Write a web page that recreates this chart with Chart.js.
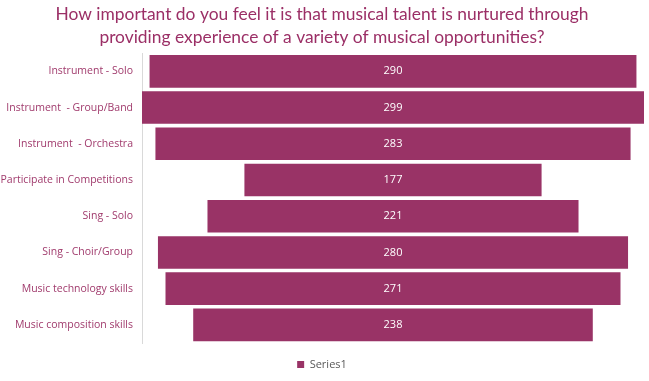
<!DOCTYPE html>
<html><head><meta charset="utf-8">
<script src="https://cdn.jsdelivr.net/npm/chart.js@4/dist/chart.umd.min.js"></script>
<style>html,body{margin:0;padding:0;background:#fff}#wrap{width:649px;height:381px}</style>
</head><body><div id="wrap"><canvas id="c"></canvas></div>
<script>
const categories = ["Instrument - Solo","Instrument  - Group/Band","Instrument  - Orchestra","Participate in Competitions","Sing - Solo","Sing - Choir/Group","Music technology skills","Music composition skills"];
const values = [290, 299, 283, 177, 221, 280, 271, 238];
const seriesName = "Series1";
const titleLines = ["How important do you feel it is that musical talent is nurtured through","providing experience of a variety of musical opportunities?"];

const maxV = Math.max(...values);
const centerLabels = {
  id: 'centerLabels',
  afterDatasetsDraw(chart) {
    const ctx = chart.ctx;
    const meta = chart.getDatasetMeta(0);
    ctx.save();
    ctx.fillStyle = '#ffffff';
    ctx.font = '11px "Open Sans", sans-serif';
    ctx.textAlign = 'center';
    ctx.textBaseline = 'middle';
    meta.data.forEach((bar, i) => {
      ctx.fillText(String(values[i]), (bar.x + bar.base) / 2, bar.y);
    });
    ctx.restore();
  }
};

new Chart(document.getElementById('c'), {
  type: 'bar',
  data: {
    labels: categories,
    datasets: [{
      label: seriesName,
      data: values.map(v => [-v / 2, v / 2]),
      backgroundColor: '#993366',
      borderWidth: 0,
      categoryPercentage: 0.9,
      barPercentage: 1.0
    }]
  },
  options: {
    indexAxis: 'y',
    responsive: true,
    maintainAspectRatio: false,
    animation: false,
    layout: { padding: { left: 0, right: 5, top: 0, bottom: 1 } },
    scales: {
      x: { display: false, min: -maxV / 2, max: maxV / 2 },
      y: {
        afterFit(scale) { scale.width = 142; },
        grid: { display: false, drawTicks: false },
        border: { display: true, color: '#d9d9d9', width: 1 },
        ticks: { color: '#a03a6c', padding: 9, font: { family: '"Open Sans", sans-serif', size: 10.5 } }
      }
    },
    plugins: {
      title: {
        display: true,
        text: titleLines,
        color: '#9b2f66',
        font: { family: 'Lato, sans-serif', size: 17.4, weight: 'normal', lineHeight: 1.3 },
        padding: { top: 3, bottom: 5 }
      },
      legend: {
        position: 'bottom',
        labels: {
          color: '#595959',
          boxWidth: 7, boxHeight: 7,
          font: { family: '"Open Sans", sans-serif', size: 11 },
          padding: 16
        }
      },
      tooltip: { enabled: false }
    }
  },
  plugins: [centerLabels]
});
</script></body></html>
